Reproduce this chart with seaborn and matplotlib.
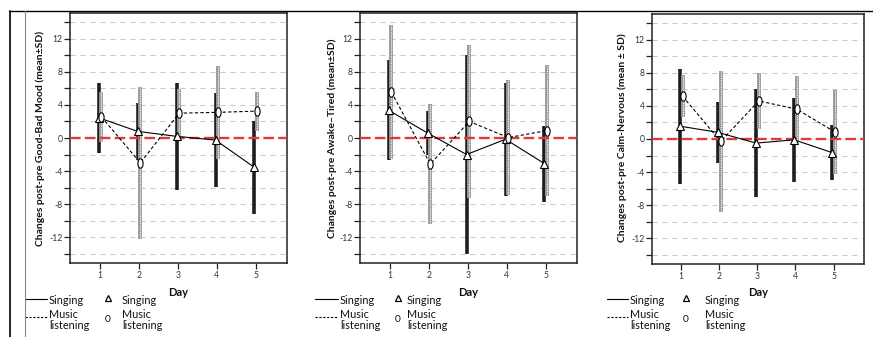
import numpy as np
import pandas as pd
import matplotlib
matplotlib.use("Agg")
import matplotlib.pyplot as plt
from matplotlib.lines import Line2D
from matplotlib.path import Path
from matplotlib.transforms import Affine2D
import seaborn as sns

# ---------------- data ----------------
days = [1, 2, 3, 4, 5]
groups = ["Singing", "Music listening"]

mood_sing_mean = [2.45, 0.8, 0.2, -0.25, -3.55]
mood_sing_sd = [4.25, 3.4, 6.5, 5.65, 5.65]
mood_mus_mean = [2.55, -3.0, 3.0, 3.1, 3.25]
mood_mus_sd = [3.05, 9.2, 2.9, 5.6, 2.35]

awake_sing_mean = [3.35, 0.6, -2.0, -0.15, -3.1]
awake_sing_sd = [6.05, 2.7, 12.0, 6.85, 4.6]
awake_mus_mean = [5.55, -3.15, 2.0, 0.05, 0.9]
awake_mus_sd = [8.05, 7.25, 9.2, 6.95, 7.9]

calm_sing_mean = [1.55, 0.8, -0.5, -0.1, -1.65]
calm_sing_sd = [6.95, 3.7, 6.5, 5.1, 3.35]
calm_mus_mean = [5.15, -0.3, 4.6, 3.6, 0.85]
calm_mus_sd = [2.55, 8.5, 3.4, 4.0, 5.05]

ylabels = ["Changes post-pre Good-Bad Mood (mean\u00b1SD)",
           "Changes post-pre Awake\u2013Tired (mean\u00b1SD)",
           "Changes post-pre Calm-Nervous (mean \u00b1 SD)"]
xlabel = "Day"
ytick_major = [-12, -8, -4, 0, 4, 8, 12]
ygrid = [-14, -12, -10, -8, -6, -4, -2, 0, 2, 4, 6, 8, 10, 12, 14]

panels = [
    (mood_sing_mean, mood_sing_sd, mood_mus_mean, mood_mus_sd),
    (awake_sing_mean, awake_sing_sd, awake_mus_mean, awake_mus_sd),
    (calm_sing_mean, calm_sing_sd, calm_mus_mean, calm_mus_sd),
]

# ---------------- style ----------------
sns.set_style("white")
plt.rcParams["font.family"] = ["Lato", "DejaVu Sans"]

W, H = 873, 337
fig = plt.figure(figsize=(W / 100, H / 100), dpi=100)

ax_boxes = [(70, 13, 287, 263), (360, 13, 577, 263), (652, 14, 864, 264)]
ylabel_x = [40, 332, 622]
legend_x = [(25, 47, 49, 108, 122), (315, 338, 340, 398, 407), (607, 628, 630, 686, 705)]
day_x = [178, 468, 758]

ell = Path.unit_circle().transformed(Affine2D().scale(0.55, 1.0))
off = 0.035

for i, (sm, ssd, mm, msd) in enumerate(panels):
    l, t, r, b = ax_boxes[i]
    ax = fig.add_axes([l / W, 1 - b / H, (r - l) / W, (b - t) / H])
    ax.set_xlim(0.23, 5.8)
    ax.set_ylim(-15.1, 15.1)

    # grid
    for g in ygrid:
        if g == 0:
            continue
        ax.axhline(g, color="#c9c9c9", lw=0.8, dashes=(4.5, 4.5), zorder=0)

    xs = np.array(days) - off
    xm = np.array(days) + off
    sm_a, ssd_a = np.array(sm), np.array(ssd)
    mm_a, msd_a = np.array(mm), np.array(msd)

    # SD bars
    ax.vlines(xs, sm_a - ssd_a, sm_a + ssd_a, color="#1e1e1e", lw=2.6, zorder=2)
    ax.vlines(xm, mm_a - msd_a, mm_a + msd_a, color="#9a9a9a", lw=2.8, zorder=2.2)
    ax.vlines(xm, mm_a - msd_a, mm_a + msd_a, color="white", lw=0.8,
              linestyles=(0, (1, 1)), zorder=2.3)

    # zero reference line
    ax.axhline(0, color="#e03a3a", lw=1.7, dashes=(4.5, 1.8), zorder=3)

    # mean lines through seaborn
    df = pd.DataFrame({
        "x": np.concatenate([xs, xm]),
        "mean": np.concatenate([sm_a, mm_a]),
        "group": [groups[0]] * 5 + [groups[1]] * 5,
    })
    sns.lineplot(data=df, x="x", y="mean", style="group", color="black",
                 dashes={groups[0]: "", groups[1]: (3, 2)}, lw=0.8,
                 legend=False, ax=ax, zorder=4, sort=False)

    ax.plot(xs, sm_a, ls="none", marker="^", ms=5.5, mfc="white", mec="black",
            mew=0.8, zorder=5)
    ax.plot(xm, mm_a, ls="none", marker=ell, ms=6.8, mfc="white", mec="black",
            mew=0.8, zorder=5)

    # axes styling
    for s in ax.spines.values():
        s.set_color("#222222")
        s.set_linewidth(1.1)
        s.set_visible(True)
    ax.set_xticks(days)
    ax.set_xticklabels([str(d) for d in days])
    ax.set_yticks(ygrid)
    ax.set_yticklabels([str(v) if v in ytick_major else "" for v in ygrid])
    ax.tick_params(axis="both", direction="out", length=4, width=0.9,
                   color="#222222", labelsize=6.2, labelcolor="#333333", pad=1.5,
                   left=True, bottom=True)
    ax.set_xlabel("")
    ax.set_ylabel("")

    # y label
    fig.text(ylabel_x[i] / W, 1 - 138 / H, ylabels[i], rotation=90, ha="center",
             va="center", fontsize=7.5, fontweight="bold", color="#111111")
    # Day label
    fig.text(day_x[i] / W, 1 - 293 / H, xlabel, ha="center", va="center",
             fontsize=8, fontweight="bold", color="#111111")

    # legend
    lx0, lx1, tx, mx, tx2 = legend_x[i]
    fig.add_artist(Line2D([lx0 / W, lx1 / W], [1 - 299 / H, 1 - 299 / H],
                          color="black", lw=0.8))
    fig.add_artist(Line2D([lx0 / W, lx1 / W], [1 - 317 / H, 1 - 317 / H],
                          color="black", lw=0.8, dashes=(2, 1.5)))
    fig.text(tx / W, 1 - 300 / H, "Singing", ha="left", va="center",
             fontsize=7.8, color="#111111")
    fig.text(tx / W, 1 - 320 / H, "Music\nlistening", ha="left", va="center",
             fontsize=7.8, color="#111111", linespacing=1.1)
    fig.add_artist(Line2D([mx / W], [1 - 298 / H], marker="^", ms=4.8,
                          mfc="white", mec="black", mew=0.9, ls="none"))
    fig.text(mx / W, 1 - 320 / H, "0", ha="center", va="center",
             fontsize=7.3, color="#111111")
    fig.text(tx2 / W, 1 - 300 / H, "Singing", ha="left", va="center",
             fontsize=7.8, color="#111111")
    fig.text(tx2 / W, 1 - 320 / H, "Music\nlistening", ha="left", va="center",
             fontsize=7.8, color="#111111", linespacing=1.1)

# outer frame lines
fig.add_artist(Line2D([9 / W, 1], [1 - 10.5 / H, 1 - 10.5 / H], color="black", lw=1.0))
fig.add_artist(Line2D([10 / W, 10 / W], [0, 1 - 10.5 / H], color="black", lw=1.2))
fig.add_artist(Line2D([25 / W, 25 / W], [0, 1 - 10.5 / H], color="#888888", lw=0.8))

fig.savefig("out.png", dpi=100)
